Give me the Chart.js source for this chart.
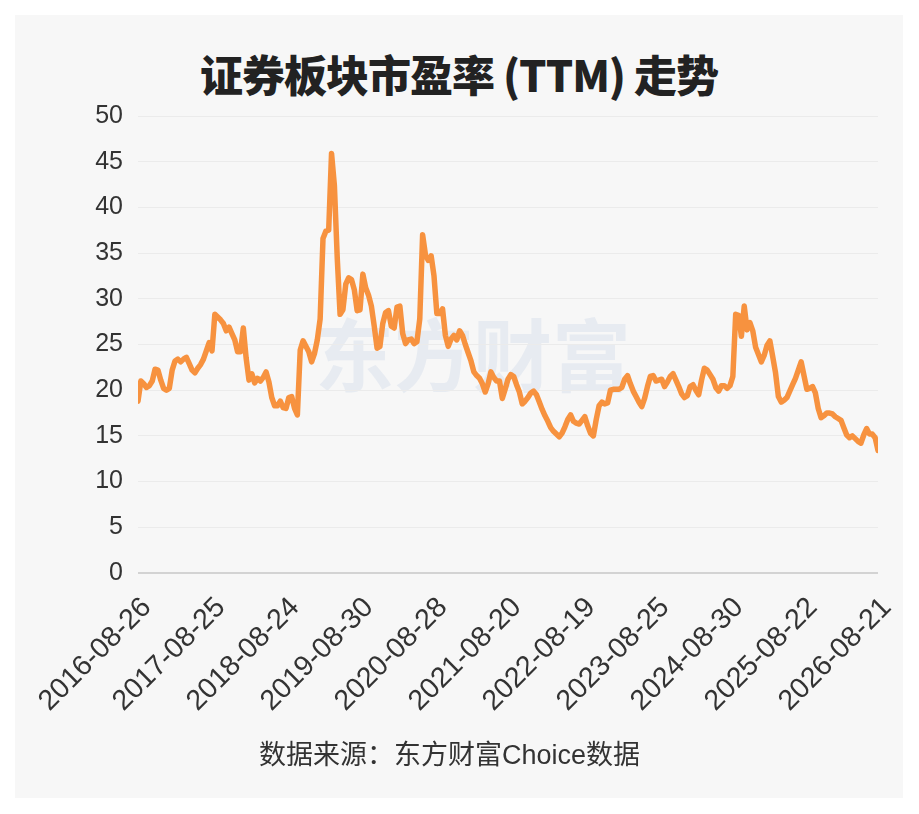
<!DOCTYPE html>
<html lang="zh-CN">
<head>
<meta charset="utf-8">
<title>证券板块市盈率 (TTM) 走势</title>
<script src="https://cdn.jsdelivr.net/npm/chart.js@4.4.1/dist/chart.umd.min.js"></script>
<style>
  html, body { margin: 0; padding: 0; background: #ffffff; }
  #panel {
    position: absolute; left: 15px; top: 15px; width: 888px; height: 783px;
    background: #f7f7f7;
  }
  #title {
    position: absolute; left: 0; top: 27px; width: 888px; text-align: center;
    font-family: "Noto Sans CJK SC", sans-serif; font-weight: 900; font-size: 43px;
    color: #222222; letter-spacing: -1px;
  }
  #watermark {
    position: absolute; left: 300px; top: 279px;
    font-family: "Noto Sans CJK SC", sans-serif; font-weight: 700; font-size: 79px;
    color: #e7ebf1;
  }
  #chart { position: absolute; left: 0; top: 75px; }
  #source {
    position: absolute; left: 0; top: 718px; width: 869px; text-align: center;
    font-family: "Liberation Sans", "Noto Sans CJK SC", sans-serif; font-size: 27px;
    color: #333333;
  }
</style>
</head>
<body>
<div id="panel">
  <div id="title">证券板块市盈率 (TTM) 走势</div>
  <div id="watermark">东方财富</div>
  <canvas id="chart" width="888" height="650"></canvas>
  <div id="source">数据来源：东方财富Choice数据</div>
</div>
<script>
'use strict';

// weekly points, one value every 2 weeks
var WEEK_STEP = 2;
var tickLabels = ['2016-08-26', '2017-08-25', '2018-08-24', '2019-08-30', '2020-08-28', '2021-08-20',
	'2022-08-19', '2023-08-25', '2024-08-30', '2025-08-22', '2026-08-21'];
var yTicks = [0, 5, 10, 15, 20, 25, 30, 35, 40, 45, 50];
var peValues = [
	18.8, 21.0, 20.7, 20.3, 20.5, 21.0, 22.3, 22.2, 21.1, 20.2,
	20.0, 20.2, 22.2, 23.2, 23.4, 23.1, 23.4, 23.6, 22.9, 22.2,
	21.9, 22.4, 22.8, 23.4, 24.3, 25.2, 24.3, 28.3, 28.0, 27.7,
	27.3, 26.5, 26.9, 26.2, 25.5, 24.2, 24.2, 26.8, 23.5, 21.1,
	21.8, 20.8, 21.3, 21.0, 21.4, 22.0, 20.9, 19.2, 18.3, 18.3,
	18.8, 18.1, 18.0, 19.2, 19.3, 18.0, 17.3, 24.4, 25.4, 24.8,
	24.2, 23.1, 24.0, 25.5, 27.8, 36.6, 37.4, 37.5, 45.9, 42.4,
	34.5, 28.3, 28.8, 31.6, 32.3, 32.1, 31.0, 28.7, 28.8, 32.7,
	31.2, 30.4, 29.2, 27.0, 24.6, 24.8, 27.3, 28.5, 28.7, 27.0,
	26.8, 29.1, 29.2, 26.2, 25.1, 25.5, 25.6, 25.1, 25.3, 27.8,
	37.0, 34.8, 34.2, 34.7, 32.5, 28.4, 28.4, 28.9, 26.0, 24.8,
	25.6, 26.0, 25.5, 26.5, 26.0, 25.0, 24.1, 23.2, 22.0, 21.6,
	21.3, 20.7, 19.8, 20.7, 22.0, 21.4, 21.0, 21.0, 19.1, 20.1,
	21.2, 21.7, 21.5, 20.6, 19.8, 18.5, 18.8, 19.2, 19.7, 19.9,
	19.5, 18.7, 17.9, 17.2, 16.6, 15.9, 15.5, 15.2, 14.9, 15.3,
	16.0, 16.8, 17.3, 16.6, 16.4, 16.3, 16.7, 17.1, 16.1, 15.3,
	15.0, 16.8, 18.3, 18.7, 18.5, 18.6, 20.0, 20.1, 20.1, 20.1,
	20.3, 21.2, 21.6, 20.7, 19.9, 19.3, 18.7, 18.2, 19.1, 20.4,
	21.5, 21.6, 21.0, 21.1, 21.2, 20.4, 20.9, 21.5, 21.8, 21.1,
	20.4, 19.6, 19.2, 19.4, 20.4, 20.6, 20.0, 19.5, 21.1, 22.4,
	22.2, 21.7, 21.2, 20.3, 19.9, 20.5, 20.5, 20.2, 20.5, 21.5,
	28.3, 28.2, 25.9, 29.2, 26.6, 27.4, 26.5, 24.7, 23.9, 23.1,
	23.8, 24.9, 25.4, 23.7, 21.9, 19.3, 18.7, 18.9, 19.2, 19.9,
	20.6, 21.3, 22.2, 23.1, 21.6, 20.1, 20.2, 20.4, 19.7, 18.0,
	17.0, 17.2, 17.5, 17.5, 17.4, 17.1, 16.9, 16.7, 15.9, 15.1,
	14.8, 15.0, 14.7, 14.4, 14.2, 15.1, 15.8, 15.2, 15.2, 14.8,
	13.4
];

var weeksPerLabel = (peValues.length - 1) * WEEK_STEP / (tickLabels.length - 1);
var points = peValues.map(function(v, i) {
	return { x: i * WEEK_STEP, y: v };
});

var yFont = { family: '"Liberation Sans", Arial, sans-serif', size: 25 };
var xFont = { family: '"Liberation Sans", Arial, sans-serif', size: 28.5 };

var ctx = document.getElementById('chart').getContext('2d');
var peChart = new Chart(ctx, {
	type: 'line',
	data: {
		datasets: [{
			label: '市盈率(TTM)',
			data: points,
			borderColor: '#f7923f',
			borderWidth: 5.5,
			pointRadius: 0,
			tension: 0,
			borderJoinStyle: 'round',
			borderCapStyle: 'round',
			fill: false
		}]
	},
	options: {
		responsive: false,
		animation: false,
		layout: {
			padding: { top: 26, right: 25, left: 0, bottom: 0 }
		},
		plugins: {
			legend: { display: false },
			title: { display: false },
			tooltip: { enabled: false }
		},
		scales: {
			x: {
				type: 'linear',
				min: 0,
				max: (peValues.length - 1) * WEEK_STEP,
				afterFit: function(scale) {
					scale.height = 167;
					scale.paddingLeft = 0;
					scale.paddingRight = 0;
				},
				grid: { display: false },
				border: { display: false },
				ticks: {
					stepSize: weeksPerLabel,
					autoSkip: false,
					maxRotation: 45,
					minRotation: 45,
					padding: 10,
					labelOffset: 9,
					color: '#333333',
					font: xFont,
					callback: function(value) {
						return tickLabels[Math.round(value / weeksPerLabel)];
					}
				}
			},
			y: {
				min: yTicks[0],
				max: yTicks[yTicks.length - 1],
				afterFit: function(scale) {
					scale.width = 123;
					scale.paddingTop = 0;
					scale.paddingBottom = 0;
				},
				border: { display: false },
				grid: {
					drawTicks: false,
					color: function(c) { return c.tick.value === 0 ? '#d3d3d3' : '#ebebeb'; },
					lineWidth: function(c) { return c.tick.value === 0 ? 2 : 1; }
				},
				ticks: {
					stepSize: yTicks[1] - yTicks[0],
					padding: 15,
					color: '#333333',
					font: yFont
				}
			}
		}
	}
});
</script>
</body>
</html>
